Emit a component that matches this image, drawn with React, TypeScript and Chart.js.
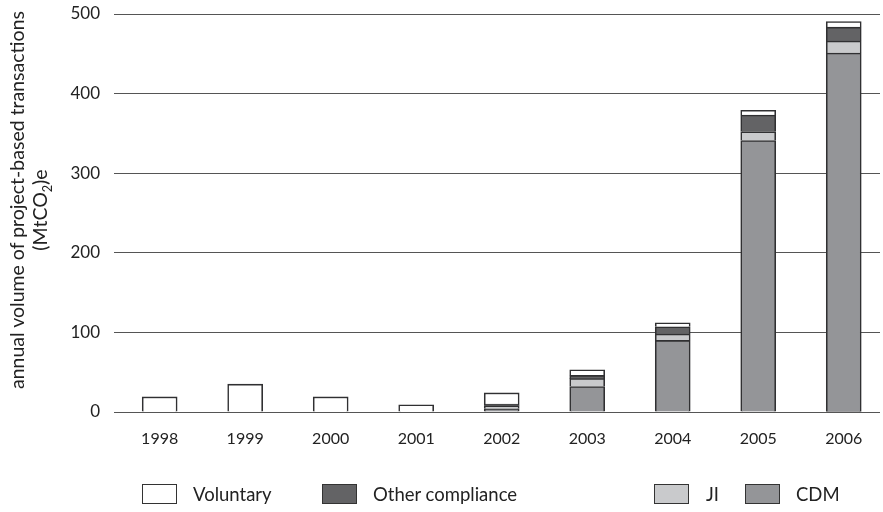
import React, { useEffect, useRef } from "react";
import { Chart, registerables } from "chart.js";

Chart.register(...registerables);

const categories = ["1998", "1999", "2000", "2001", "2002", "2003", "2004", "2005", "2006"];
const cdm = [null, null, null, null, 4, 32, 90, 341, 451];
const ji = [null, null, null, null, 4, 10, 8, 11, 15];
const otherCompliance = [null, null, null, null, 2, 4, 9, 21, 17.5];
const voluntary = [19, 35, 19, 9, 14, 7, 5, 6, 7];
const yTicks = [0, 100, 200, 300, 400, 500];
const yTitleLine1 = "annual volume of project-based transactions";

const legendItems = [
  { label: "Voluntary", color: "#ffffff", box: 142, text: 193 },
  { label: "Other compliance", color: "#636365", box: 322, text: 373 },
  { label: "JI", color: "#c9cacc", box: 654, text: 706 },
  { label: "CDM", color: "#949598", box: 745, text: 796 },
];

const FONT = "Lato, 'Open Sans', sans-serif";

export default function App() {
  const ref = useRef<HTMLCanvasElement>(null);
  useEffect(() => {
    const xs = categories.map(Number);
    const mk = (label: string, vals: (number | null)[], color: string) => ({
      label,
      data: vals
        .map((v, i) => ({ x: xs[i], y: v }))
        .filter((p) => p.y !== null),
      backgroundColor: color,
      borderColor: "#303032",
      borderWidth: 1.6,
      borderSkipped: "start",
      barThickness: 35,
    });
    const chart = new Chart(ref.current!, {
      type: "bar",
      data: {
        datasets: [
          mk("CDM", cdm, "#949598"),
          mk("JI", ji, "#c9cacc"),
          mk("Other compliance", otherCompliance, "#636365"),
          mk("Voluntary", voluntary, "#ffffff"),
        ] as any,
      },
      options: {
        animation: false,
        responsive: false,
        maintainAspectRatio: false,
        layout: { padding: { left: 0, right: 3, top: 14, bottom: 0 } },
        plugins: { legend: { display: false }, tooltip: { enabled: false } },
        scales: {
          x: {
            type: "linear",
            offset: false,
            stacked: true,
            min: 1997.466,
            max: 2006.424,
            grid: { display: false },
            border: { display: false },
            afterFit: (s: any) => {
              s.height = 100;
              s.paddingLeft = 0;
              s.paddingRight = 0;
            },
            afterBuildTicks: (s: any) => { s.ticks = categories.map((c) => ({ value: Number(c) })); },
            ticks: {
              color: "#222",
              padding: 9,
              maxRotation: 0,
              font: { family: FONT, size: 16 },
              callback: (v: any) => String(v),
            },
          },
          y: {
            stacked: true,
            min: 0,
            max: 500,
            afterFit: (s: any) => {
              s.width = 114;
              s.paddingTop = 0;
              s.paddingBottom = 0;
            },
            afterBuildTicks: (s: any) => { s.ticks = yTicks.map((v) => ({ value: v })); },
            grid: { color: "#555", lineWidth: 1, drawTicks: false },
            border: { display: false },
            ticks: {
              color: "#222",
              padding: 14,
              font: { family: FONT, size: 17 },
            },
          },
        },
      },
    });
    return () => chart.destroy();
  }, []);

  const titleStyle = (cx: number, cy: number): React.CSSProperties => ({
    position: "absolute",
    left: cx - 250,
    top: cy - 12,
    width: 500,
    height: 24,
    lineHeight: "24px",
    textAlign: "center",
    fontSize: 19.5,
    color: "#222",
    whiteSpace: "nowrap",
    transform: "rotate(-90deg)",
    transformOrigin: "50% 50%",
  });

  return (
    <div style={{ position: "fixed", left: 0, top: 0, width: 883, height: 512, background: "#fff", fontFamily: FONT }}>
      <canvas ref={ref} width={883} height={512} style={{ position: "absolute", left: 0, top: 0, width: 883, height: 512 }} />
      <div style={titleStyle(17, 200)}>{yTitleLine1}</div>
      <div style={titleStyle(40, 210)}>
        (MtCO<sub style={{ fontSize: "0.65em", lineHeight: 0 }}>2</sub>)e
      </div>
      {legendItems.map((it) => (
        <React.Fragment key={it.label}>
          <div
            style={{
              position: "absolute",
              left: it.box,
              top: 484,
              width: 33,
              height: 18,
              background: it.color,
              border: "1px solid #333",
            }}
          />
          <div
            style={{
              position: "absolute",
              left: it.text,
              top: 483,
              height: 22,
              lineHeight: "22px",
              fontSize: 18.5,
              color: "#222",
              whiteSpace: "nowrap",
            }}
          >
            {it.label}
          </div>
        </React.Fragment>
      ))}
    </div>
  );
}
